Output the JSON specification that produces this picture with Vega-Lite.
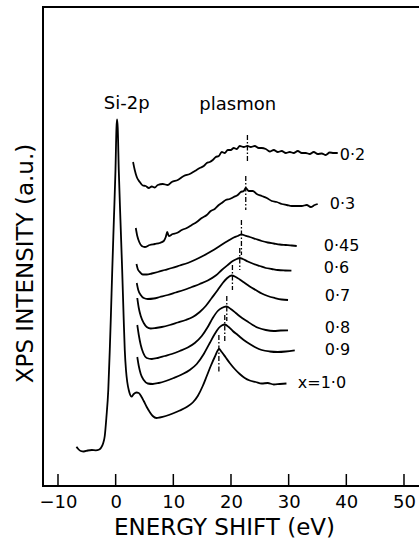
{
"$schema": "https://vega.github.io/schema/vega-lite/v6.json",
"width": 378, "height": 479,
"autosize": {"type": "none"},
"padding": {"left": 43, "top": 7, "right": 0, "bottom": 60},
"config": {"view": {"stroke": "black", "strokeWidth": 2}, "font": "DejaVu Sans", "text": {"color": "black"}},
"datasets": {
"curves": [
{"s":"1.0","e":-6.80,"i":39.3},{"s":"1.0","e":-6.49,"i":37},{"s":"1.0","e":-6.05,"i":35},{"s":"1.0","e":-5.53,"i":34.5},{"s":"1.0","e":-4.84,"i":35.5},{"s":"1.0","e":-4.14,"i":36},{"s":"1.0","e":-3.45,"i":35.7},{"s":"1.0","e":-2.84,"i":36.5},{"s":"1.0","e":-2.50,"i":38.5},{"s":"1.0","e":-2.18,"i":42.5},{"s":"1.0","e":-1.89,"i":50},{"s":"1.0","e":-1.60,"i":69},{"s":"1.0","e":-1.28,"i":96},{"s":"1.0","e":-1.02,"i":136},{"s":"1.0","e":-0.85,"i":166},{"s":"1.0","e":-0.59,"i":216},{"s":"1.0","e":-0.31,"i":266},{"s":"1.0","e":-0.03,"i":316},{"s":"1.0","e":0.14,"i":358},{"s":"1.0","e":0.24,"i":366.5},{"s":"1.0","e":0.36,"i":358},{"s":"1.0","e":0.54,"i":316},{"s":"1.0","e":0.83,"i":266},{"s":"1.0","e":1.13,"i":216},{"s":"1.0","e":1.40,"i":166},{"s":"1.0","e":1.58,"i":136},{"s":"1.0","e":1.79,"i":116},{"s":"1.0","e":2.01,"i":104},{"s":"1.0","e":2.27,"i":96},{"s":"1.0","e":2.53,"i":91},{"s":"1.0","e":2.74,"i":89.3},{"s":"1.0","e":3.14,"i":92},{"s":"1.0","e":3.61,"i":93.5},{"s":"1.0","e":4.01,"i":93},{"s":"1.0","e":4.47,"i":89.3},{"s":"1.0","e":4.87,"i":85},{"s":"1.0","e":5.39,"i":79},{"s":"1.0","e":5.91,"i":74},{"s":"1.0","e":6.43,"i":70},{"s":"1.0","e":7.07,"i":68},{"s":"1.0","e":7.65,"i":68.5},{"s":"1.0","e":8.69,"i":70},{"s":"1.0","e":9.90,"i":72.5},{"s":"1.0","e":11.12,"i":75.5},{"s":"1.0","e":12.33,"i":79},{"s":"1.0","e":13.37,"i":83.5},{"s":"1.0","e":14.24,"i":90},{"s":"1.0","e":15.10,"i":100},{"s":"1.0","e":15.80,"i":110},{"s":"1.0","e":16.49,"i":120},{"s":"1.0","e":17.18,"i":129},{"s":"1.0","e":17.93,"i":137},{"s":"1.0","e":18.40,"i":134},{"s":"1.0","e":19.09,"i":128.5},{"s":"1.0","e":19.78,"i":123},{"s":"1.0","e":20.65,"i":117},{"s":"1.0","e":21.52,"i":112},{"s":"1.0","e":22.39,"i":108},{"s":"1.0","e":23.25,"i":105.5},{"s":"1.0","e":24.29,"i":104},{"s":"1.0","e":25.33,"i":102.5},{"s":"1.0","e":26.37,"i":103},{"s":"1.0","e":27.42,"i":101.5},{"s":"1.0","e":28.46,"i":102},{"s":"1.0","e":29.62,"i":102.5},
{"s":"0.9","e":3.75,"i":129},{"s":"0.9","e":4.01,"i":120},{"s":"0.9","e":4.35,"i":112},{"s":"0.9","e":4.87,"i":106},{"s":"0.9","e":5.57,"i":102.5},{"s":"0.9","e":6.43,"i":102},{"s":"0.9","e":7.47,"i":103},{"s":"0.9","e":8.69,"i":105},{"s":"0.9","e":10.07,"i":108},{"s":"0.9","e":11.46,"i":111.5},{"s":"0.9","e":12.85,"i":116},{"s":"0.9","e":14.06,"i":122},{"s":"0.9","e":15.28,"i":132},{"s":"0.9","e":16.32,"i":143},{"s":"0.9","e":17.18,"i":152},{"s":"0.9","e":17.88,"i":158},{"s":"0.9","e":18.40,"i":160.5},{"s":"0.9","e":18.92,"i":161.5},{"s":"0.9","e":19.61,"i":159},{"s":"0.9","e":20.31,"i":155},{"s":"0.9","e":21.17,"i":151},{"s":"0.9","e":22.21,"i":146},{"s":"0.9","e":23.25,"i":142},{"s":"0.9","e":24.29,"i":138.5},{"s":"0.9","e":25.33,"i":136},{"s":"0.9","e":26.72,"i":134.5},{"s":"0.9","e":28.11,"i":134},{"s":"0.9","e":29.50,"i":134.5},{"s":"0.9","e":31.06,"i":135.7},
{"s":"0.8","e":3.75,"i":161},{"s":"0.8","e":4.01,"i":151},{"s":"0.8","e":4.35,"i":141},{"s":"0.8","e":4.79,"i":133},{"s":"0.8","e":5.39,"i":128},{"s":"0.8","e":6.26,"i":127},{"s":"0.8","e":7.30,"i":128},{"s":"0.8","e":8.51,"i":130},{"s":"0.8","e":9.73,"i":132},{"s":"0.8","e":11.12,"i":135},{"s":"0.8","e":12.50,"i":138.5},{"s":"0.8","e":13.72,"i":143},{"s":"0.8","e":14.93,"i":150},{"s":"0.8","e":15.97,"i":159},{"s":"0.8","e":16.84,"i":168},{"s":"0.8","e":17.70,"i":175},{"s":"0.8","e":18.40,"i":178},{"s":"0.8","e":19.21,"i":179.5},{"s":"0.8","e":19.96,"i":177},{"s":"0.8","e":20.83,"i":173},{"s":"0.8","e":21.69,"i":169},{"s":"0.8","e":22.73,"i":165},{"s":"0.8","e":23.77,"i":161},{"s":"0.8","e":24.81,"i":158},{"s":"0.8","e":26.03,"i":156},{"s":"0.8","e":27.42,"i":155},{"s":"0.8","e":28.63,"i":155.5},{"s":"0.8","e":29.89,"i":155.7},
{"s":"0.7","e":3.75,"i":188},{"s":"0.7","e":4.01,"i":178},{"s":"0.7","e":4.35,"i":170},{"s":"0.7","e":4.87,"i":163},{"s":"0.7","e":5.39,"i":159},{"s":"0.7","e":6.09,"i":157.5},{"s":"0.7","e":6.95,"i":158},{"s":"0.7","e":7.99,"i":159},{"s":"0.7","e":9.38,"i":161},{"s":"0.7","e":10.77,"i":163.5},{"s":"0.7","e":12.16,"i":166},{"s":"0.7","e":13.37,"i":169},{"s":"0.7","e":14.58,"i":174},{"s":"0.7","e":15.62,"i":180},{"s":"0.7","e":16.66,"i":188},{"s":"0.7","e":17.70,"i":196},{"s":"0.7","e":18.57,"i":203},{"s":"0.7","e":19.27,"i":207.5},{"s":"0.7","e":20.08,"i":210.5},{"s":"0.7","e":20.83,"i":209},{"s":"0.7","e":21.52,"i":206.5},{"s":"0.7","e":22.39,"i":203},{"s":"0.7","e":23.25,"i":199.5},{"s":"0.7","e":24.29,"i":196},{"s":"0.7","e":25.33,"i":192.5},{"s":"0.7","e":26.37,"i":190},{"s":"0.7","e":27.59,"i":188},{"s":"0.7","e":28.80,"i":186.5},{"s":"0.7","e":29.89,"i":186},
{"s":"0.6","e":3.66,"i":203},{"s":"0.6","e":3.92,"i":196},{"s":"0.6","e":4.35,"i":191},{"s":"0.6","e":4.87,"i":188},{"s":"0.6","e":5.57,"i":187},{"s":"0.6","e":6.61,"i":187.5},{"s":"0.6","e":7.65,"i":189},{"s":"0.6","e":9.03,"i":191},{"s":"0.6","e":10.42,"i":193.5},{"s":"0.6","e":11.81,"i":196},{"s":"0.6","e":13.20,"i":199},{"s":"0.6","e":14.58,"i":202},{"s":"0.6","e":15.97,"i":205.5},{"s":"0.6","e":17.36,"i":210.5},{"s":"0.6","e":18.40,"i":216},{"s":"0.6","e":19.44,"i":221},{"s":"0.6","e":20.31,"i":225},{"s":"0.6","e":21.00,"i":227},{"s":"0.6","e":21.52,"i":228},{"s":"0.6","e":22.04,"i":227},{"s":"0.6","e":22.91,"i":224.5},{"s":"0.6","e":23.95,"i":222},{"s":"0.6","e":24.99,"i":220},{"s":"0.6","e":26.03,"i":218},{"s":"0.6","e":27.07,"i":217},{"s":"0.6","e":28.11,"i":216},{"s":"0.6","e":29.32,"i":215.5},{"s":"0.6","e":30.48,"i":215.3},
{"s":"0.45","e":3.61,"i":222},{"s":"0.45","e":3.83,"i":217},{"s":"0.45","e":4.18,"i":214},{"s":"0.45","e":4.70,"i":211.5},{"s":"0.45","e":5.39,"i":211.5},{"s":"0.45","e":6.26,"i":212.5},{"s":"0.45","e":7.30,"i":214},{"s":"0.45","e":8.51,"i":216},{"s":"0.45","e":9.73,"i":218},{"s":"0.45","e":11.12,"i":220.5},{"s":"0.45","e":12.50,"i":223},{"s":"0.45","e":13.89,"i":226.5},{"s":"0.45","e":15.28,"i":230.5},{"s":"0.45","e":16.66,"i":235},{"s":"0.45","e":18.05,"i":240},{"s":"0.45","e":19.44,"i":245},{"s":"0.45","e":20.48,"i":248.5},{"s":"0.45","e":21.17,"i":250},{"s":"0.45","e":21.81,"i":251.7},{"s":"0.45","e":22.39,"i":250.5},{"s":"0.45","e":23.25,"i":249},{"s":"0.45","e":24.29,"i":247},{"s":"0.45","e":25.33,"i":245},{"s":"0.45","e":26.37,"i":243.5},{"s":"0.45","e":27.42,"i":242.5},{"s":"0.45","e":28.46,"i":241.5},{"s":"0.45","e":29.50,"i":241},{"s":"0.45","e":30.54,"i":240.5},{"s":"0.45","e":31.40,"i":240},
{"s":"0.3","e":3.49,"i":258},{"s":"0.3","e":3.75,"i":250},{"s":"0.3","e":4.09,"i":244},{"s":"0.3","e":4.53,"i":240},{"s":"0.3","e":5.05,"i":239},{"s":"0.3","e":5.91,"i":241},{"s":"0.3","e":6.78,"i":242},{"s":"0.3","e":7.65,"i":243},{"s":"0.3","e":8.34,"i":245},{"s":"0.3","e":8.69,"i":249},{"s":"0.3","e":8.95,"i":254},{"s":"0.3","e":9.21,"i":250},{"s":"0.3","e":9.90,"i":252},{"s":"0.3","e":10.59,"i":253},{"s":"0.3","e":11.46,"i":256},{"s":"0.3","e":12.33,"i":258},{"s":"0.3","e":13.20,"i":261},{"s":"0.3","e":14.06,"i":264},{"s":"0.3","e":14.93,"i":268},{"s":"0.3","e":15.80,"i":271},{"s":"0.3","e":16.49,"i":275},{"s":"0.3","e":17.18,"i":277},{"s":"0.3","e":17.88,"i":281},{"s":"0.3","e":18.40,"i":283},{"s":"0.3","e":19.09,"i":286},{"s":"0.3","e":19.78,"i":287},{"s":"0.3","e":20.48,"i":289},{"s":"0.3","e":21.17,"i":291},{"s":"0.3","e":21.69,"i":294},{"s":"0.3","e":22.21,"i":295},{"s":"0.3","e":22.56,"i":298},{"s":"0.3","e":23.08,"i":295},{"s":"0.3","e":23.77,"i":295},{"s":"0.3","e":24.47,"i":292},{"s":"0.3","e":25.33,"i":290},{"s":"0.3","e":26.20,"i":288},{"s":"0.3","e":27.07,"i":285},{"s":"0.3","e":27.93,"i":284},{"s":"0.3","e":28.80,"i":282},{"s":"0.3","e":29.67,"i":281},{"s":"0.3","e":30.54,"i":280},{"s":"0.3","e":31.40,"i":280},{"s":"0.3","e":32.27,"i":280},{"s":"0.3","e":33.14,"i":281},{"s":"0.3","e":33.83,"i":279},{"s":"0.3","e":34.52,"i":281},{"s":"0.3","e":35.04,"i":282},
{"s":"0.2","e":3.02,"i":324},{"s":"0.2","e":3.31,"i":316},{"s":"0.2","e":3.66,"i":309},{"s":"0.2","e":4.18,"i":304},{"s":"0.2","e":4.70,"i":300.5},{"s":"0.2","e":5.22,"i":300},{"s":"0.2","e":5.74,"i":298},{"s":"0.2","e":6.26,"i":299.5},{"s":"0.2","e":6.78,"i":298.5},{"s":"0.2","e":7.30,"i":301},{"s":"0.2","e":8.17,"i":302},{"s":"0.2","e":9.03,"i":301},{"s":"0.2","e":9.73,"i":304},{"s":"0.2","e":10.77,"i":306},{"s":"0.2","e":11.81,"i":310},{"s":"0.2","e":12.85,"i":312},{"s":"0.2","e":13.72,"i":315},{"s":"0.2","e":14.58,"i":318},{"s":"0.2","e":15.28,"i":320},{"s":"0.2","e":15.80,"i":323},{"s":"0.2","e":16.32,"i":324},{"s":"0.2","e":16.84,"i":326},{"s":"0.2","e":17.36,"i":329},{"s":"0.2","e":17.88,"i":330},{"s":"0.2","e":18.40,"i":334},{"s":"0.2","e":18.92,"i":333},{"s":"0.2","e":19.44,"i":336},{"s":"0.2","e":19.96,"i":336},{"s":"0.2","e":20.48,"i":338},{"s":"0.2","e":21.00,"i":337},{"s":"0.2","e":21.52,"i":340},{"s":"0.2","e":22.21,"i":339},{"s":"0.2","e":22.85,"i":340},{"s":"0.2","e":23.43,"i":339},{"s":"0.2","e":24.12,"i":340},{"s":"0.2","e":24.81,"i":338},{"s":"0.2","e":25.33,"i":338},{"s":"0.2","e":26.03,"i":337},{"s":"0.2","e":26.72,"i":334.5},{"s":"0.2","e":27.42,"i":336},{"s":"0.2","e":28.11,"i":334},{"s":"0.2","e":28.80,"i":335},{"s":"0.2","e":29.50,"i":333},{"s":"0.2","e":30.19,"i":334},{"s":"0.2","e":30.88,"i":333},{"s":"0.2","e":31.58,"i":335},{"s":"0.2","e":32.27,"i":333},{"s":"0.2","e":32.96,"i":333},{"s":"0.2","e":33.66,"i":332},{"s":"0.2","e":34.35,"i":334},{"s":"0.2","e":35.04,"i":332},{"s":"0.2","e":35.74,"i":332.5},{"s":"0.2","e":36.43,"i":331},{"s":"0.2","e":37.12,"i":333.5},{"s":"0.2","e":37.82,"i":333},{"s":"0.2","e":38.51,"i":333}
],
"peaks": [
{"s":"0.2","e":22.85,"i1":351,"i2":324},
{"s":"0.3","e":22.56,"i1":310,"i2":276},
{"s":"0.45","e":21.81,"i1":266,"i2":231},
{"s":"0.6","e":21.52,"i1":238,"i2":216},
{"s":"0.7","e":20.25,"i1":221,"i2":196},
{"s":"0.8","e":19.27,"i1":190,"i2":165},
{"s":"0.9","e":18.92,"i1":171,"i2":144},
{"s":"1.0","e":17.9,"i1":151,"i2":113}
],
"labels": [
{"t":"0·2","e":38.86,"i":331},
{"t":"0·3","e":37.12,"i":282},
{"t":"0·45","e":36.08,"i":240},
{"t":"0·6","e":36.08,"i":218},
{"t":"0·7","e":36.26,"i":190},
{"t":"0·8","e":36.26,"i":158},
{"t":"0·9","e":36.26,"i":136},
{"t":"x=1·0","e":31.58,"i":103}
],
"notes": [
{"t":"Si-2p","e":1.92,"i":377},
{"t":"plasmon","e":21.17,"i":376}
],
"ticks": [{"t":-10},{"t":0},{"t":10},{"t":20},{"t":30},{"t":40},{"t":50}]
},
"layer": [
{
"data": {"name": "curves"},
"mark": {"type": "line", "color": "black", "strokeWidth": 1.8, "interpolate": "monotone"},
"encoding": {
"x": {"field": "e", "type": "quantitative", "scale": {"domain": [-12.6, 52.95], "nice": false, "zero": false},
"axis": {"values": [-10,0,10,20,30,40,50], "title": "ENERGY SHIFT (eV)", "grid": false, "domain": false, "ticks": false, "labelFontSize": 18, "labelColor": "black", "labelPadding": 7, "labelFlush": false, "titleFontSize": 23, "titleFontWeight": "normal", "titleColor": "black", "titleX": 181, "titleY": 48, "titleBaseline": "alphabetic", "titleAnchor": "start", "titleAlign": "center"}},
"y": {"field": "i", "type": "quantitative", "scale": {"domain": [0, 479], "nice": false},
"axis": {"title": "XPS INTENSITY (a.u.)", "grid": false, "domain": false, "ticks": false, "labels": false, "titleFontSize": 23, "titleFontWeight": "normal", "titleColor": "black", "titleX": -11, "titleY": 256, "titleAngle": -90, "titleBaseline": "alphabetic", "titleAlign": "center", "titleAnchor": "start"}},
"detail": {"field": "s"}
}
},
{
"data": {"name": "ticks"},
"mark": {"type": "rule", "color": "black", "strokeWidth": 1.5},
"encoding": {
"x": {"field": "t", "type": "quantitative"},
"y": {"datum": 0},
"y2": {"datum": 12}
}
},
{
"data": {"name": "peaks"},
"mark": {"type": "rule", "color": "black", "strokeWidth": 1.3, "strokeDash": [5, 2, 1.5, 2]},
"encoding": {
"x": {"field": "e", "type": "quantitative"},
"y": {"field": "i1", "type": "quantitative"},
"y2": {"field": "i2"}
}
},
{
"data": {"name": "labels"},
"mark": {"type": "text", "align": "left", "baseline": "middle", "fontSize": 16, "color": "black"},
"encoding": {
"x": {"field": "e", "type": "quantitative"},
"y": {"field": "i", "type": "quantitative"},
"text": {"field": "t"}
}
},
{
"data": {"name": "notes"},
"mark": {"type": "text", "align": "center", "baseline": "alphabetic", "fontSize": 18, "color": "black"},
"encoding": {
"x": {"field": "e", "type": "quantitative"},
"y": {"field": "i", "type": "quantitative"},
"text": {"field": "t"}
}
}
]
}
